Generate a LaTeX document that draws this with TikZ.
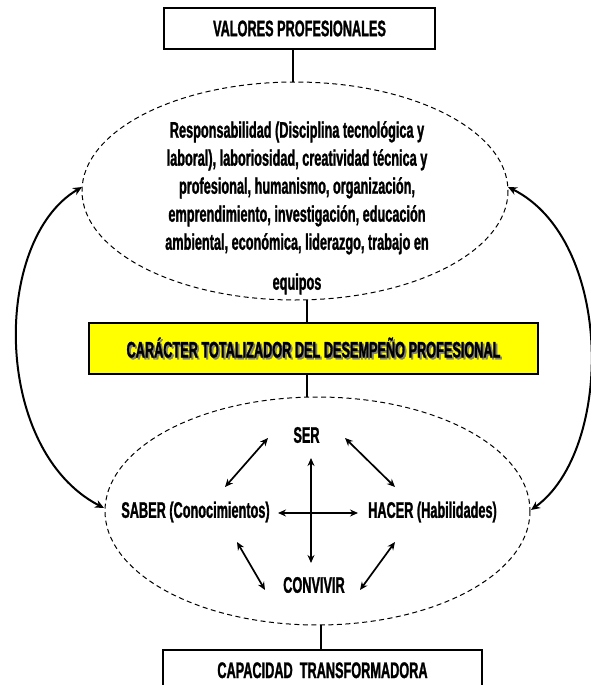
\documentclass[tikz,border=0pt]{standalone}
\usepackage{fontspec}
\setmainfont{Liberation Sans}[FakeStretch=0.565,FakeBold=1.2]
\usetikzlibrary{arrows.meta}
\definecolor{boxyellow}{RGB}{255,255,0}
\tikzset{
  txt/.style={font=\fontsize{22.5}{28}\selectfont\bfseries, inner sep=0pt},
  framebox/.style={draw=black, line width=2.8pt, fill=white, inner sep=0pt},
  dashell/.style={draw=black, line width=1pt, dash pattern=on 5pt off 3.5pt},
  link/.style={draw=black, line width=1.3pt},
  biarr/.style={line width=1.7pt, {Stealth[length=8pt,width=7pt]}-{Stealth[length=8pt,width=7pt]}},
  bigarr/.style={line width=2pt, {Stealth[length=9pt,width=8pt]}-{Stealth[length=9pt,width=8pt]}}
}
\newcommand{\shadowtext}[1]{\makebox[0pt][l]{\hspace{1.8pt}\raisebox{-1.8pt}{\textcolor{black!50}{#1}}}#1}
\begin{document}
\begin{tikzpicture}[x=1pt,y=-1pt]
\useasboundingbox (0,0) rectangle (591,685);
\clip (0,0) rectangle (591,685);

% top box
\node[framebox, txt, minimum width=271pt, minimum height=41pt] (vp) at (299.5,28.5) {VALORES PROFESIONALES};

% upper ellipse
\draw[dashell] (295,191) ellipse [x radius=213, y radius=109];
\coordinate (e1n) at (293,82);
\coordinate (e1s) at (307,300);
\coordinate (e1w) at (82,187);
\coordinate (e1e) at (508,187);
\node[txt, align=center, anchor=north] (vals) at (297,121) {Responsabilidad (Disciplina tecnológica y\\
laboral), laboriosidad, creatividad técnica y\\
profesional, humanismo, organización,\\
emprendimiento, investigación, educación\\
ambiental, económica, liderazgo, trabajo en\\[12pt]
equipos};

% yellow box
\node[framebox, fill=boxyellow, txt, minimum width=449pt, minimum height=51pt] (ctd) at (313.5,348.5) {\shadowtext{CARÁCTER TOTALIZADOR DEL DESEMPEÑO PROFESIONAL}};

% lower ellipse
\draw[dashell] (317.5,511) ellipse [x radius=212.5, y radius=114];
\coordinate (e2n) at (307,397);
\coordinate (e2s) at (321,625);
\coordinate (e2w) at (104,508);
\coordinate (e2e) at (531,510);

% bottom box
\node[framebox, txt, minimum width=319pt, minimum height=60pt] (cap) at (322.5,680) {};
\node[txt, anchor=base] (captxt) at (322.5,678) {CAPACIDAD\ \ TRANSFORMADORA};

% vertical links
\draw[link] (vp.south -| e1n) -- (e1n);
\draw[link] (e1s) -- (ctd.north -| e1s);
\draw[link] (ctd.south -| e2n) -- (e2n);
\draw[link] (e2s) -- (cap.north -| e2s);

% inner nodes
\node[txt] (ser) at (306.5,435) {SER};
\node[txt] (saber) at (195.5,512) {SABER (Conocimientos)};
\node[txt] (hacer) at (432.5,512) {HACER (Habilidades)};
\node[txt] (conv) at (314,585) {CONVIVIR};

\coordinate (a1) at (268,438); \coordinate (a2) at (225,487);
\coordinate (b1) at (345,438); \coordinate (b2) at (395,487);
\coordinate (c1) at (237,542); \coordinate (c2) at (265,590);
\coordinate (d1) at (395,542); \coordinate (d2) at (360,590);
\coordinate (v1) at (311,458); \coordinate (v2) at (311,563);
\coordinate (h1) at (278,513); \coordinate (h2) at (358,513);

\draw[biarr] (a1) -- (a2);
\draw[biarr] (b1) -- (b2);
\draw[biarr] (c1) -- (c2);
\draw[biarr] (d1) -- (d2);
\draw[biarr] (v1) -- (v2);
\draw[biarr] (h1) -- (h2);

% outer curved arrows
\draw[bigarr] (e1w) .. controls (-8,240) and (-8,450) .. (e2w);
\draw[bigarr] (e1e) .. controls (614,240) and (614,450) .. (e2e);
\end{tikzpicture}
\end{document}
